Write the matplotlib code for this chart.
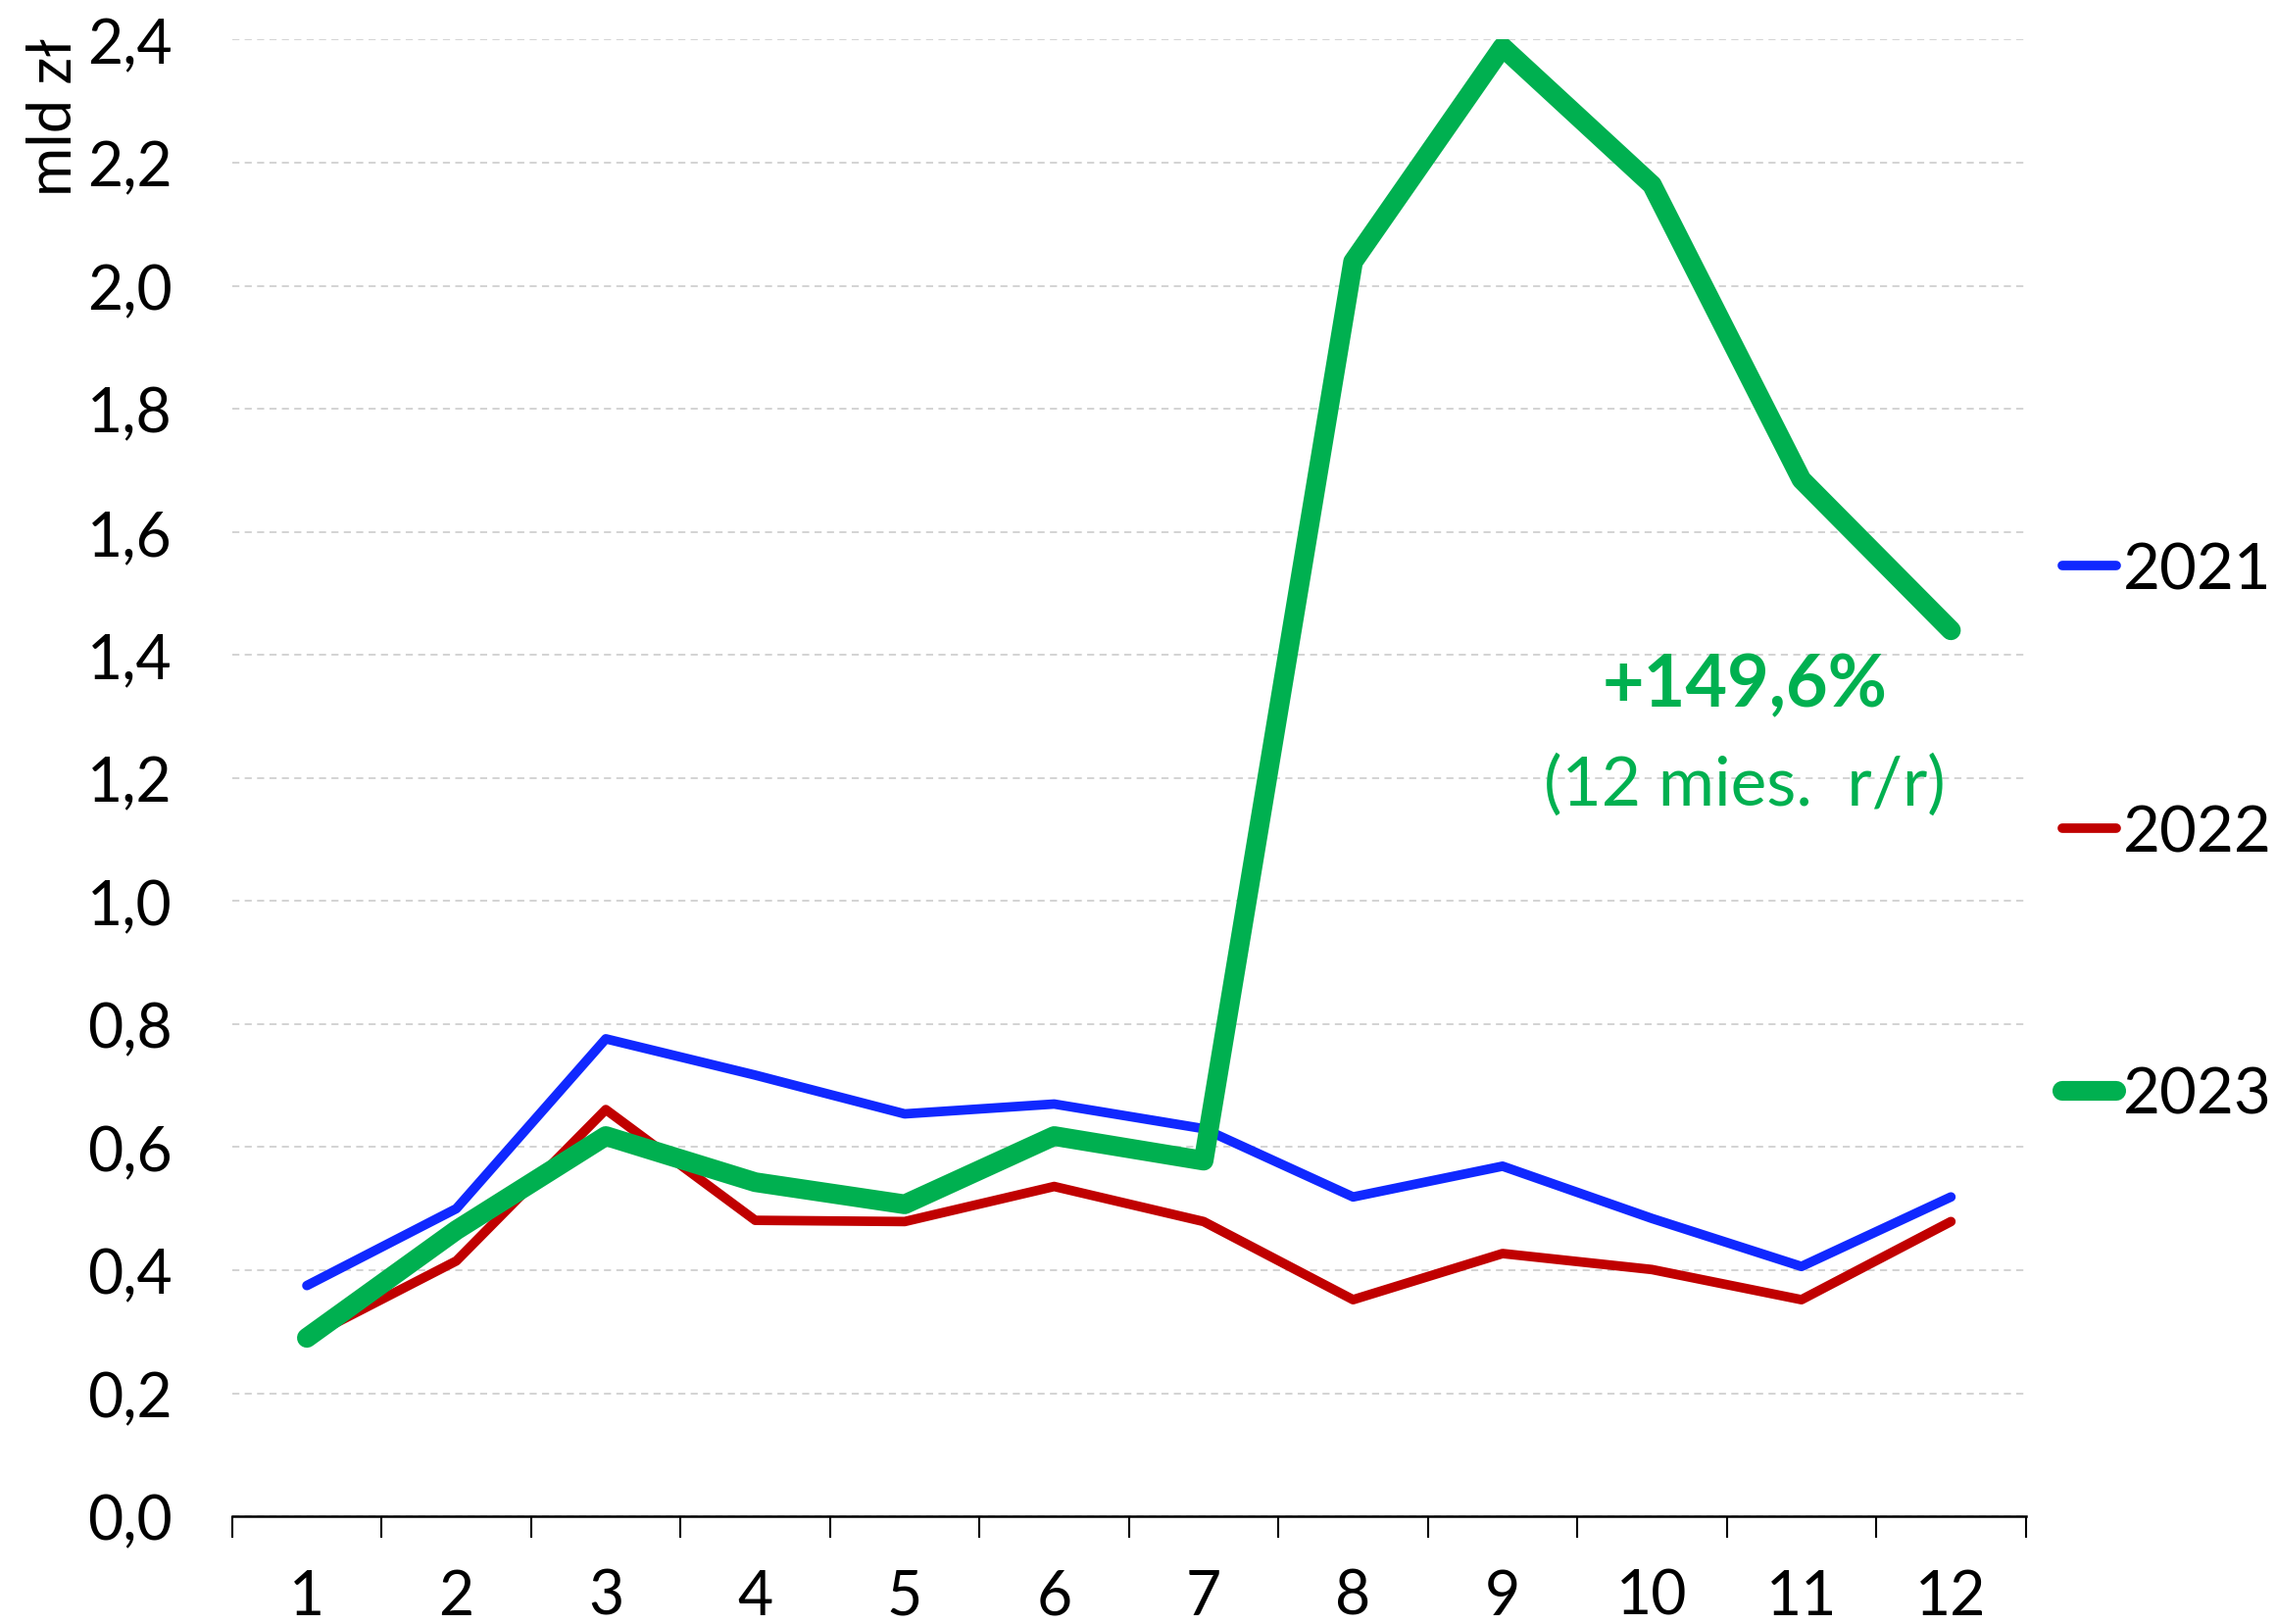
import matplotlib
matplotlib.use("Agg")
from matplotlib import pyplot as plt
from matplotlib.ticker import FuncFormatter, MultipleLocator
from matplotlib.lines import Line2D

plt.rcParams['font.family'] = ['Lato', 'DejaVu Sans']

months = [1, 2, 3, 4, 5, 6, 7, 8, 9, 10, 11, 12]
y2021 = [0.375, 0.50, 0.776, 0.717, 0.654, 0.670, 0.630, 0.519, 0.569, 0.484, 0.406, 0.519]
y2022 = [0.29, 0.415, 0.661, 0.481, 0.479, 0.536, 0.479, 0.352, 0.427, 0.401, 0.352, 0.479]
y2023 = [0.290, 0.465, 0.618, 0.543, 0.507, 0.618, 0.578, 2.039, 2.388, 2.164, 1.685, 1.440]
labels = ['2021', '2022', '2023']
colors = ['#1028FF', '#C00000', '#00B050']
widths = [7, 7, 14.5]

fig = plt.figure(figsize=(23.22, 16.58), dpi=100)
ax = fig.add_axes([0.102, 0.0663, 0.788, 0.9087])

for ys, c, w in zip([y2021, y2022, y2023], colors, widths):
    ax.plot(months, ys, color=c, lw=w, solid_capstyle='round', solid_joinstyle='round')

ax.set_xlim(0.5, 12.5)
ax.set_ylim(0, 2.4)
ax.yaxis.set_major_locator(MultipleLocator(0.2))
ax.yaxis.set_major_formatter(FuncFormatter(lambda v, p: ('%.1f' % v).replace('.', ',')))
ax.set_xticks(months)
ax.set_xticks([m + 0.5 for m in range(0, 13)], minor=True)
ax.tick_params(axis='x', which='major', length=0, pad=38, labelsize=45)
ax.tick_params(axis='x', which='minor', length=16, width=1.5, color='black', direction='out')
ax.tick_params(axis='y', length=0, pad=44, labelsize=45)

ax.grid(axis='y', color='#D0D0D0', linestyle=(0, (4, 3)), linewidth=1.3)
ax.set_axisbelow(True)
for s in ['top', 'right', 'left']:
    ax.spines[s].set_visible(False)
ax.spines['bottom'].set_linewidth(1.8)

fig.text(0.024, 0.928, 'mld zł', rotation=90, ha='center', va='center', fontsize=44)

ax.text(10.62, 1.352, '+149,6%', color='#00B050', fontsize=53, fontweight='bold', ha='center', va='center')
ax.text(10.62, 1.19, '(12 mies.  r/r)', color='#00B050', fontsize=50, ha='center', va='center')

handles = [Line2D([0], [0], color=c, lw=w, solid_capstyle='round') for c, w in zip(colors, widths)]
fig.legend(handles, labels, loc='center left', bbox_to_anchor=(0.906, 0.487), frameon=False,
           fontsize=47, labelspacing=3.2, handlelength=0.85, handletextpad=0.1,
           borderpad=0, borderaxespad=0)

plt.savefig('out.png', dpi=100)
